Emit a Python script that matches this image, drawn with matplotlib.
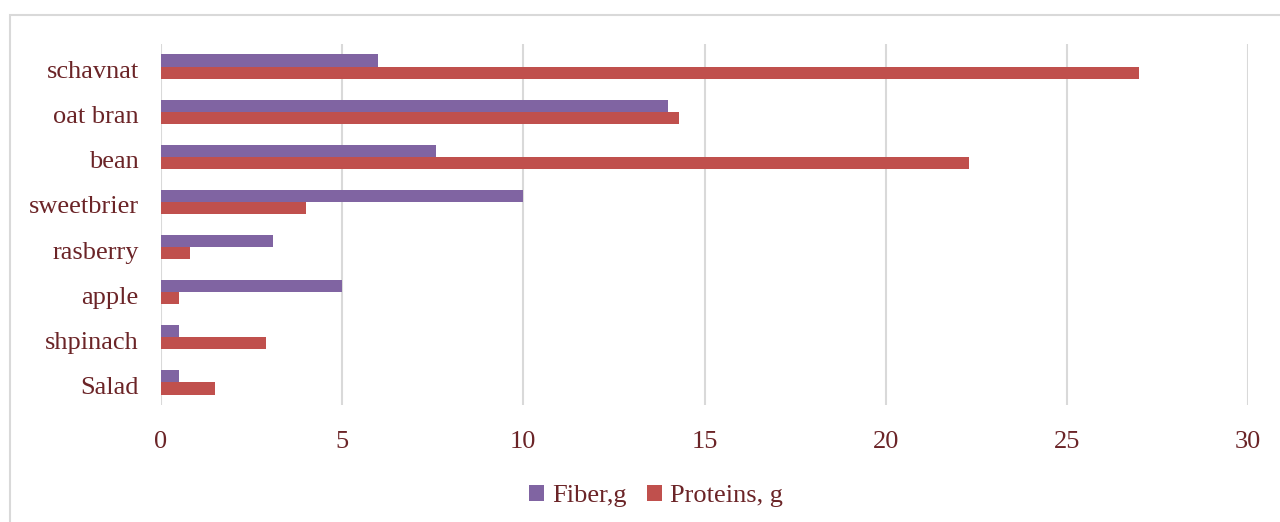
import matplotlib
matplotlib.use("Agg")
import matplotlib.pyplot as plt
import numpy as np
import matplotlib.transforms as mtransforms
from matplotlib.patches import Rectangle

categories = ["Salad", "shpinach", "apple", "rasberry", "sweetbrier", "bean", "oat bran", "schavnat"]
fiber = [0.5, 0.5, 5.0, 3.1, 10.0, 7.6, 14.0, 6.0]
proteins = [1.5, 2.9, 0.5, 0.8, 4.0, 22.3, 14.3, 27.0]
series_names = ["Fiber,g", "Proteins, g"]
xticks = [0, 5, 10, 15, 20, 25, 30]

TXT = "#6B2427"
PURPLE = "#8064A2"
RED = "#C0504D"

plt.rcParams['font.family'] = ['Liberation Serif', 'DejaVu Serif']

fig = plt.figure(figsize=(12.8, 5.22), dpi=100)
ax = fig.add_axes([161/1280, 1-405/522, (1248-161)/1280, (405-44)/522])

y = np.arange(len(categories))
h = 0.27
ax.barh(y + h/2, fiber, height=h, color=PURPLE, label=series_names[0], zorder=3)
ax.barh(y - h/2, proteins, height=h, color=RED, label=series_names[1], zorder=3)

ax.set_xlim(0, 30)
ax.set_ylim(-0.5, len(categories) - 0.5)
ax.set_xticks(xticks)
ax.set_xticklabels([str(t) for t in xticks])
ax.set_yticks(y)
ax.set_yticklabels(categories)
ax.tick_params(axis='both', length=0, colors=TXT, labelsize=19)
ax.tick_params(axis='y', pad=16)
ax.tick_params(axis='x', pad=19)
offset = mtransforms.ScaledTranslation(0, -3/100, fig.dpi_scale_trans)
for lbl in ax.get_yticklabels():
    lbl.set_transform(lbl.get_transform() + offset)
ax.grid(axis='x', color="#D9D9D9", linewidth=1.5, zorder=0)
for s in ax.spines.values():
    s.set_visible(False)

# outer chart border (partly cropped in reference)
fig.patches.append(Rectangle((10/1280, -0.1), 1.2, 1-15/522+0.1, transform=fig.transFigure,
                             fill=False, edgecolor="#D9D9D9", linewidth=1.5))

leg = fig.legend(loc='center', bbox_to_anchor=(656/1280, 1-496/522), ncol=2, frameon=False,
                 fontsize=19, handlelength=0.55, handleheight=0.55, handletextpad=0.3,
                 columnspacing=0.8, labelcolor=TXT)

fig.savefig("out.png", dpi=100)
